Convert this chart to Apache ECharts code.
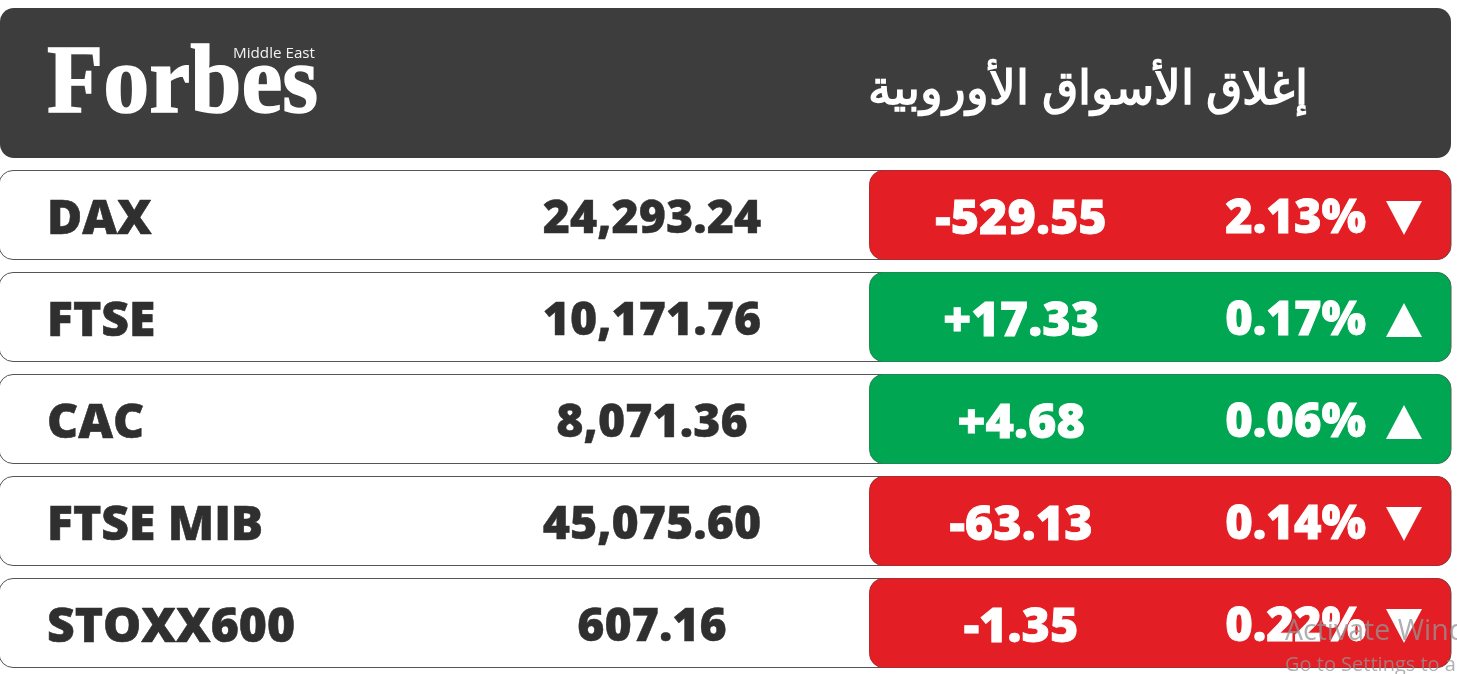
<!DOCTYPE html>
<html><head><meta charset="utf-8">
<style>html,body{margin:0;padding:0;background:#fff;overflow:hidden}#c{width:1457px;height:674px}</style>
<script src="https://cdn.jsdelivr.net/npm/echarts@6/dist/echarts.min.js"></script>
</head><body><div id="c"></div>
<script>
const indexNames = ['DAX','FTSE','CAC','FTSE MIB','STOXX600'];
const closeValues = [24293.24,10171.76,8071.36,45075.60,607.16];
const changeValues = [-529.55,17.33,4.68,-63.13,-1.35];
const percentValues = [2.13,0.17,0.06,0.14,0.22];
const titleText = 'إغلاق الأسواق الأوروبية';

const FONT = '"Open Sans","Noto Sans",sans-serif';
const fmt = v => v.toLocaleString('en-US',{minimumFractionDigits:2,maximumFractionDigits:2});
const RED='#e31e24', GREEN='#00a651', INK='#2f2f2f';
const chart = echarts.init(document.getElementById('c'),null,{renderer:'canvas',width:1457,height:674});

function renderRow(params, api){
  const i = api.value(0);
  const cy = api.coord([0,i])[1];
  const X = v => api.coord([v,i])[0];
  const up = changeValues[i] >= 0;
  const txt = (s,x,align,fill,size,sw)=>({type:'text',z2:5,style:{text:s,x:x,y:cy+5,align:align,verticalAlign:'middle',fill:fill,stroke:sw?fill:null,lineWidth:sw||0,font:'800 '+size+'px '+FONT}});
  const d = up ? -1 : 1;
  return {type:'group',children:[
    {type:'rect',shape:{x:X(0)-1,y:cy-44.5,width:1452,height:89,r:14},style:{fill:'#fff',stroke:'#555',lineWidth:1}},
    {type:'rect',shape:{x:X(869)+0.5,y:cy-44.5,width:581,height:89,r:14},style:{fill:up?GREEN:RED,stroke:up?'#1c8a52':'#b02a2e',lineWidth:1}},
    txt(indexNames[i],X(47),'left',INK,48,0.6),
    txt(fmt(closeValues[i]),X(652),'center',INK,46.5,0.4),
    txt((up?'+':'-')+fmt(Math.abs(changeValues[i])),X(1021),'center','#fff',48.5,0.8),
    txt(fmt(percentValues[i])+'%',X(1366),'right','#fff',47,0.8),
    {type:'polygon',z2:5,shape:{points:[[X(1386),cy+3-17*d],[X(1422),cy+3-17*d],[X(1404),cy+3+17*d]]},style:{fill:'#fff'}}
  ]};
}

chart.setOption({
  animation:false,
  backgroundColor:'#fff',
  grid:{left:0,right:0,top:164,bottom:0},
  xAxis:{type:'value',min:0,max:1457,show:false},
  yAxis:{type:'category',inverse:true,show:false,data:indexNames},
  series:[{type:'custom',renderItem:renderRow,silent:true,clip:false,
    data:indexNames.map((n,i)=>[i]),encode:{x:[],y:0}}],
  graphic:[
    {type:'rect',left:0,top:8,z:0,shape:{width:1451,height:150,r:14},style:{fill:'#3d3d3d'}},
    {type:'text',x:47,y:87,z:5,scaleX:0.94,style:{text:'Forbes',x:0,y:0,align:'left',verticalAlign:'middle',fill:'#fff',stroke:'#fff',lineWidth:1.5,font:'bold 98px "Liberation Serif",serif'}},
    {type:'text',x:315,y:54,z:6,style:{text:'Middle East',x:0,y:0,align:'right',verticalAlign:'middle',fill:'#f2f2f2',font:'15.2px '+FONT}},
    {type:'text',x:1308,y:90,z:5,style:{text:titleText,x:0,y:0,align:'right',verticalAlign:'middle',fill:'#fff',font:'600 47.4px '+FONT}},
    {type:'text',x:1285,y:632,z:20,style:{text:'Activate Windows',x:0,y:0,align:'left',verticalAlign:'middle',fill:'rgba(150,150,150,0.75)',font:'28.5px '+FONT}},
    {type:'text',x:1285,y:665,z:20,style:{text:'Go to Settings to activate Windows.',x:0,y:0,align:'left',verticalAlign:'middle',fill:'rgba(150,150,150,0.75)',font:'20px '+FONT}}
  ]
});
</script></body></html>
